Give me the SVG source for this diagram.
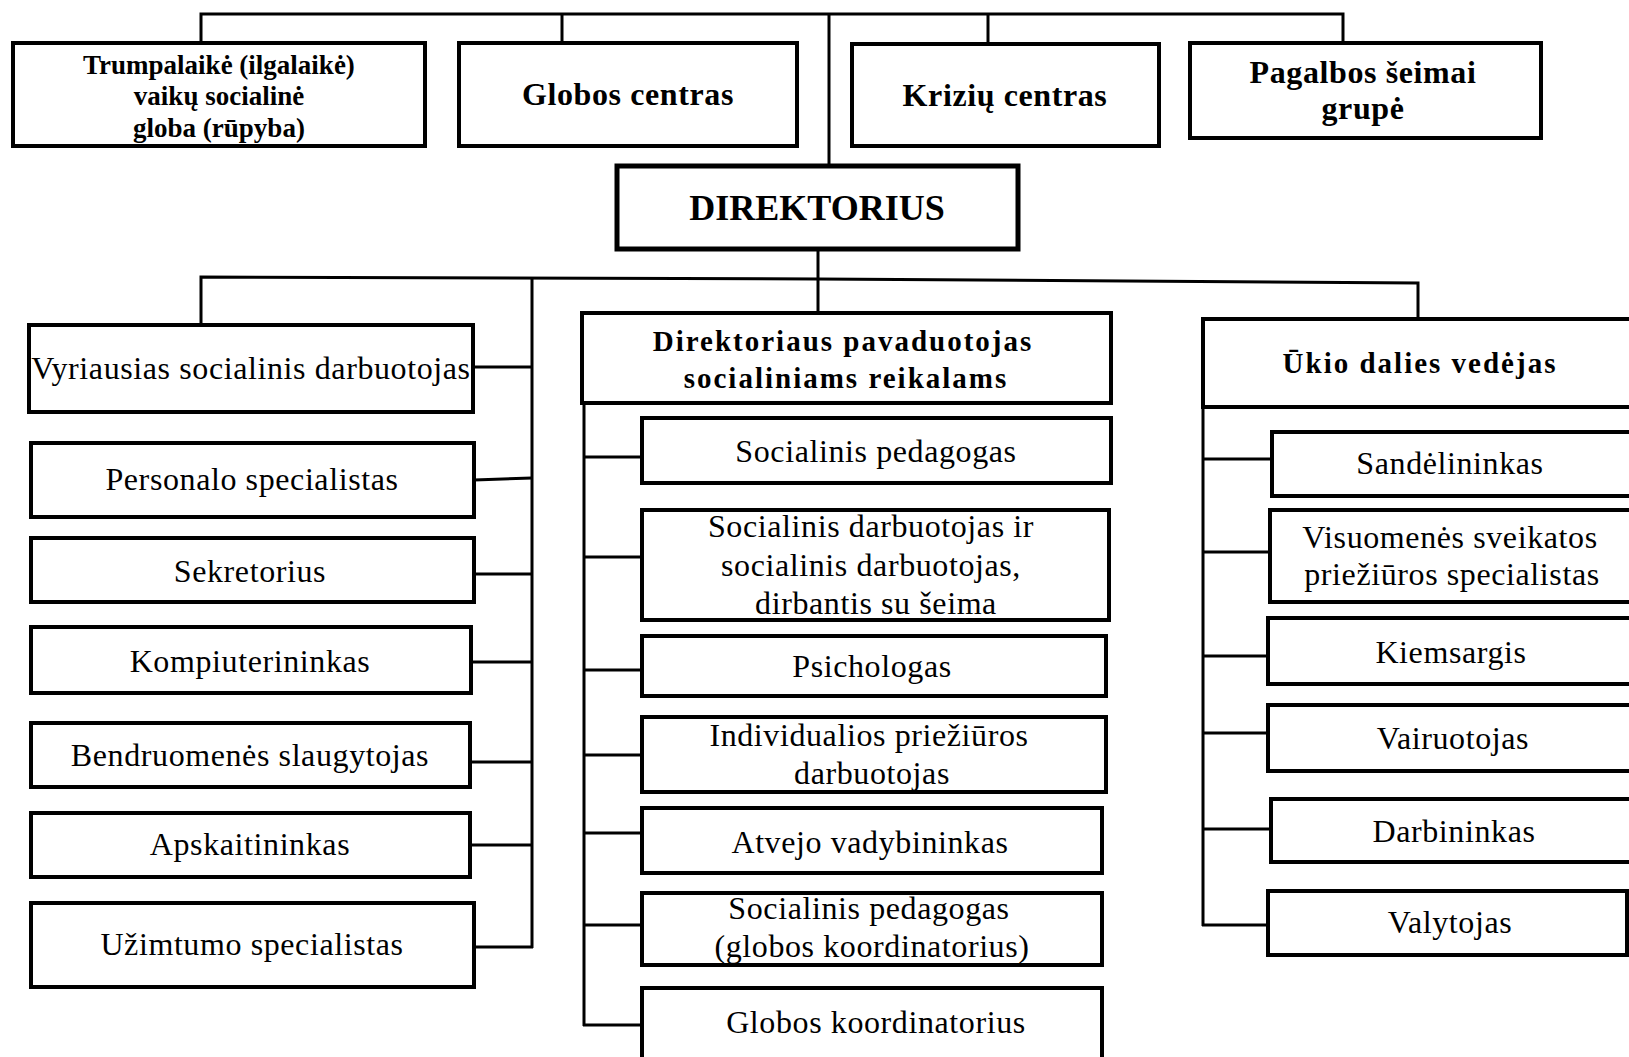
<svg xmlns="http://www.w3.org/2000/svg" width="1629" height="1057" viewBox="0 0 1629 1057">
<style>
.bg{fill:#ffffff}
.box{fill:#ffffff;stroke:#000000;stroke-width:4}
.dir{fill:#ffffff;stroke:#000000;stroke-width:5}
.ln{fill:none;stroke:#000000;stroke-width:3}
text{font-family:"Liberation Serif","Times New Roman",serif;fill:#000000;text-anchor:middle}
.t{font-size:32px;letter-spacing:0.6px}
.tb{font-size:32px;font-weight:bold;letter-spacing:0.6px}
.ts{font-size:27px;font-weight:bold}
.td{font-size:36px;font-weight:bold}
.tm{font-size:29px;font-weight:bold;letter-spacing:2px}
</style>
<rect class="bg" x="0" y="0" width="1629" height="1057"/>
<g id="connectors">
<polyline class="ln" points="201,43 201,14 1343,14 1343,43"/>
<line class="ln" x1="562" y1="14" x2="562" y2="43"/>
<line class="ln" x1="829" y1="14" x2="829" y2="166"/>
<line class="ln" x1="988" y1="14" x2="988" y2="44"/>
<line class="ln" x1="818" y1="249" x2="818" y2="313"/>
<polyline class="ln" points="201,325 201,277 818,279 1418,283 1418,319"/>
<line class="ln" x1="532" y1="277" x2="532" y2="948"/>
<line class="ln" x1="473" y1="367" x2="532" y2="367"/>
<line class="ln" x1="474" y1="480" x2="532" y2="478"/>
<line class="ln" x1="474" y1="574" x2="532" y2="574"/>
<line class="ln" x1="471" y1="662" x2="532" y2="662"/>
<line class="ln" x1="470" y1="762" x2="532" y2="762"/>
<line class="ln" x1="470" y1="845" x2="532" y2="845"/>
<line class="ln" x1="474" y1="947" x2="533" y2="947"/>
<line class="ln" x1="584" y1="403" x2="584" y2="1026"/>
<line class="ln" x1="584" y1="457" x2="642" y2="457"/>
<line class="ln" x1="584" y1="557" x2="642" y2="557"/>
<line class="ln" x1="584" y1="670" x2="642" y2="670"/>
<line class="ln" x1="584" y1="755" x2="642" y2="755"/>
<line class="ln" x1="584" y1="833" x2="642" y2="833"/>
<line class="ln" x1="584" y1="925" x2="642" y2="925"/>
<line class="ln" x1="583" y1="1025" x2="642" y2="1025"/>
<line class="ln" x1="1203" y1="407" x2="1203" y2="926"/>
<line class="ln" x1="1203" y1="459" x2="1272" y2="459"/>
<line class="ln" x1="1203" y1="552" x2="1270" y2="552"/>
<line class="ln" x1="1203" y1="656" x2="1268" y2="656"/>
<line class="ln" x1="1203" y1="733" x2="1268" y2="733"/>
<line class="ln" x1="1203" y1="829" x2="1271" y2="829"/>
<line class="ln" x1="1202" y1="925" x2="1268" y2="925"/>
</g>
<g id="n-trumpalaike"><rect class="box" x="13" y="43" width="412" height="103"/>
<text class="ts" x="219" y="74">Trumpalaikė (ilgalaikė)</text>
<text class="ts" x="219" y="105">vaikų socialinė</text>
<text class="ts" x="219" y="137">globa (rūpyba)</text></g>
<g id="n-globos-centras"><rect class="box" x="459" y="43" width="338" height="103"/>
<text class="tb" x="628" y="105">Globos centras</text></g>
<g id="n-kriziu-centras"><rect class="box" x="852" y="44" width="307" height="102"/>
<text class="tb" x="1005" y="106">Krizių centras</text></g>
<g id="n-pagalbos"><rect class="box" x="1190" y="43" width="351" height="95"/>
<text class="tb" x="1363" y="83">Pagalbos šeimai</text>
<text class="tb" x="1363" y="119">grupė</text></g>
<g id="n-direktorius"><rect class="dir" x="617" y="166" width="401" height="83"/>
<text class="td" x="817" y="220">DIREKTORIUS</text></g>
<g id="n-vyriausias"><rect class="box" x="29" y="325" width="444" height="87"/>
<text class="t" x="251" y="379">Vyriausias socialinis darbuotojas</text></g>
<g id="n-personalo"><rect class="box" x="31" y="443" width="443" height="74"/>
<text class="t" x="252" y="490">Personalo specialistas</text></g>
<g id="n-sekretorius"><rect class="box" x="31" y="538" width="443" height="64"/>
<text class="t" x="250" y="582">Sekretorius</text></g>
<g id="n-kompiuterininkas"><rect class="box" x="31" y="627" width="440" height="66"/>
<text class="t" x="250" y="672">Kompiuterininkas</text></g>
<g id="n-bendruomenes"><rect class="box" x="31" y="723" width="439" height="64"/>
<text class="t" x="250" y="766">Bendruomenės slaugytojas</text></g>
<g id="n-apskaitininkas"><rect class="box" x="31" y="813" width="439" height="64"/>
<text class="t" x="250" y="855">Apskaitininkas</text></g>
<g id="n-uzimtumo"><rect class="box" x="31" y="903" width="443" height="84"/>
<text class="t" x="252" y="955">Užimtumo specialistas</text></g>
<g id="n-pavaduotojas"><rect class="box" x="582" y="313" width="529" height="90"/>
<text class="tm" x="843" y="351">Direktoriaus pavaduotojas</text>
<text class="tm" x="846" y="388">socialiniams reikalams</text></g>
<g id="n-soc-pedagogas"><rect class="box" x="642" y="418" width="469" height="65"/>
<text class="t" x="876" y="462">Socialinis pedagogas</text></g>
<g id="n-soc-darbuotojas"><rect class="box" x="642" y="510" width="467" height="110"/>
<text class="t" x="871" y="537">Socialinis darbuotojas ir</text>
<text class="t" x="871" y="576">socialinis darbuotojas,</text>
<text class="t" x="876" y="614">dirbantis su šeima</text></g>
<g id="n-psichologas"><rect class="box" x="642" y="636" width="464" height="60"/>
<text class="t" x="872" y="677">Psichologas</text></g>
<g id="n-individualios"><rect class="box" x="642" y="717" width="464" height="75"/>
<text class="t" x="869" y="746">Individualios priežiūros</text>
<text class="t" x="872" y="784">darbuotojas</text></g>
<g id="n-atvejo"><rect class="box" x="642" y="808" width="460" height="65"/>
<text class="t" x="870" y="853">Atvejo vadybininkas</text></g>
<g id="n-soc-pedagogas-globos"><rect class="box" x="642" y="893" width="460" height="72"/>
<text class="t" x="869" y="919">Socialinis pedagogas</text>
<text class="t" x="872" y="957">(globos koordinatorius)</text></g>
<g id="n-globos-koordinatorius"><rect class="box" x="642" y="988" width="460" height="80"/>
<text class="t" x="876" y="1033">Globos koordinatorius</text></g>
<g id="n-ukio"><rect class="box" x="1203" y="319" width="440" height="88"/>
<text class="tm" x="1420" y="373">Ūkio dalies vedėjas</text></g>
<g id="n-sandelininkas"><rect class="box" x="1272" y="432" width="370" height="64"/>
<text class="t" x="1450" y="474">Sandėlininkas</text></g>
<g id="n-visuomenes"><rect class="box" x="1270" y="510" width="372" height="92"/>
<text class="t" x="1450" y="548">Visuomenės sveikatos</text>
<text class="t" x="1452" y="585">priežiūros specialistas</text></g>
<g id="n-kiemsargis"><rect class="box" x="1268" y="618" width="374" height="66"/>
<text class="t" x="1451" y="663">Kiemsargis</text></g>
<g id="n-vairuotojas"><rect class="box" x="1268" y="705" width="374" height="66"/>
<text class="t" x="1453" y="749">Vairuotojas</text></g>
<g id="n-darbininkas"><rect class="box" x="1271" y="799" width="371" height="63"/>
<text class="t" x="1454" y="842">Darbininkas</text></g>
<g id="n-valytojas"><rect class="box" x="1268" y="891" width="359" height="64"/>
<text class="t" x="1450" y="933">Valytojas</text></g>
</svg>
